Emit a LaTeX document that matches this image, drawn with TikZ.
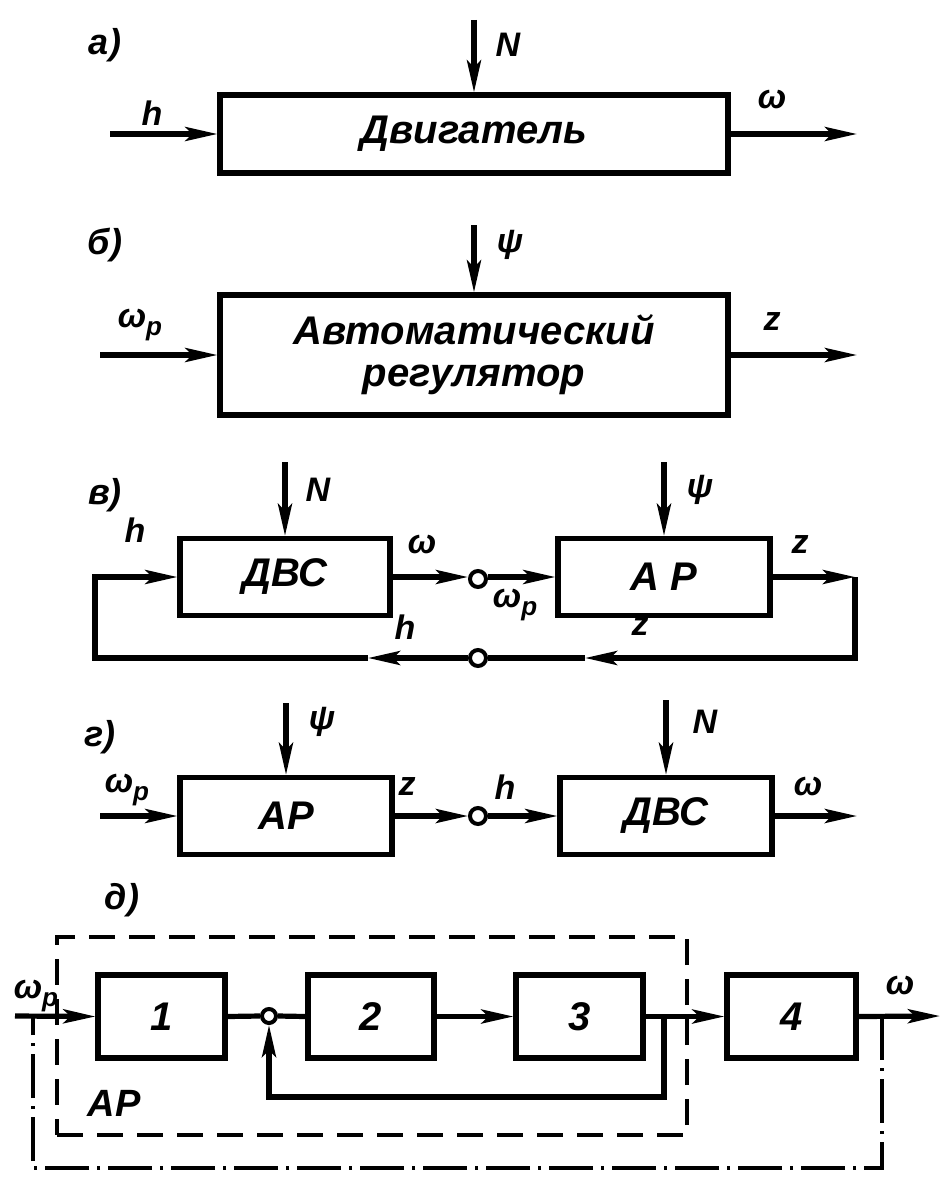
\documentclass[tikz,border=0pt]{standalone}
\usepackage{fontspec}
\setmainfont{Liberation Sans}
\usetikzlibrary{arrows.meta}
\newcommand{\omp}{ω\raisebox{-0.45ex}{\fontsize{13}{13}\selectfont p}}
\begin{document}
\begin{tikzpicture}[x=0.5pt,y=-0.5pt,
  every node/.style={font=\bfseries\itshape},
  blk/.style={draw,line width=2.6pt,inner sep=0pt,font=\bfseries\itshape\fontsize{20}{23}\selectfont},
  lnk/.style={line width=2.6pt},
  arr/.style={lnk,-{Stealth[length=16pt,width=7pt,inset=3.5pt]}},
  sumc/.style={draw,circle,line width=2pt,fill=white,minimum size=8pt,inner sep=0pt},
  lbl/.style={font=\bfseries\itshape\fontsize{17}{19}\selectfont,inner sep=0pt},
  ptag/.style={font=\bfseries\itshape\fontsize{18}{20}\selectfont,inner sep=0pt}]
\path[use as bounding box] (0,0) rectangle (942,1177);
% ---------- a)
\node[ptag] (ta) at (105,45) {а)};
\node[blk,minimum width=254pt,minimum height=39pt] (A) at (474,134) {Двигатель};
\coordinate (aN) at (474,20);
\coordinate (ah) at (110,134);
\coordinate (aw) at (857,134);
\draw[arr] (aN) -- (A.north);
\draw[arr] (ah) -- (A.west);
\draw[arr] (A.east) -- (aw);
\node[lbl] (laN) at (508,45) {N};
\node[lbl] (lah) at (152,113) {h};
\node[lbl] (law) at (772,100) {ω};
% ---------- b)
\node[ptag] (tb) at (105,245) {б)};
\node[blk,minimum width=254pt,minimum height=60pt,align=center] (B) at (474,355) {Автоматический\\[-2pt]регулятор};
\coordinate (bP) at (474,225);
\coordinate (bw) at (100,355);
\coordinate (bz) at (857,355);
\draw[arr] (bP) -- (B.north);
\draw[arr] (bw) -- (B.west);
\draw[arr] (B.east) -- (bz);
\node[lbl] (lbP) at (510,245) {ψ};
\node[lbl] (lbw) at (140,325) {\omp};
\node[lbl] (lbz) at (772,322) {z};
% ---------- v)
\node[ptag] (tc) at (105,495) {в)};
\node[blk,minimum width=105pt,minimum height=38.5pt] (C1) at (285,577) {ДВС};
\node[blk,minimum width=106pt,minimum height=38.5pt] (C2) at (664,577) {А Р};
\node[sumc] (c1) at (478,579) {};
\node[sumc] (c2) at (478,658) {};
\coordinate (cN) at (285,462);
\coordinate (cP) at (664,462);
\coordinate (cR) at (855,577);
\coordinate (cRb) at (855,658);
\coordinate (cz) at (585,658);
\coordinate (chm) at (368,658);
\coordinate (cL) at (95,658);
\draw[arr] (cN) -- (C1.north);
\draw[arr] (cP) -- (C2.north);
\draw[arr] (C1.east) -- (c1.west |- C1.east);
\draw[arr] (c1.east |- C2.west) -- (C2.west);
\draw[arr] (C2.east) -- (cR);
\draw[arr] (cR) -- (cRb) -- (cz);
\draw[lnk] (cz) -- (c2.east);
\draw[arr] (c2.west) -- (chm);
\draw[arr] (chm) -- (cL) |- (C1.west);
\node[lbl] (lcN) at (318,490) {N};
\node[lbl] (lcP) at (700,490) {ψ};
\node[lbl] (lch) at (135,530) {h};
\node[lbl] (lcw) at (422,545) {ω};
\node[lbl] (lcwp) at (515,605) {\omp};
\node[lbl] (lcz) at (800,545) {z};
\node[lbl] (lcz2) at (640,627) {z};
\node[lbl] (lch2) at (405,627) {h};
% ---------- g)
\node[ptag] (td) at (100,737) {г)};
\node[blk,minimum width=106pt,minimum height=38.5pt] (D1) at (286,816) {АР};
\node[blk,minimum width=106pt,minimum height=38.5pt] (D2) at (666,816) {ДВС};
\node[sumc] (d1) at (478,816) {};
\coordinate (dP) at (286,703);
\coordinate (dN) at (666,700);
\coordinate (dwp) at (100,816);
\coordinate (dw) at (857,816);
\draw[arr] (dP) -- (D1.north);
\draw[arr] (dN) -- (D2.north);
\draw[arr] (dwp) -- (D1.west);
\draw[arr] (D1.east) -- (d1.west);
\draw[arr] (d1.east) -- (D2.west);
\draw[arr] (D2.east) -- (dw);
\node[lbl] (ldP) at (322,722) {ψ};
\node[lbl] (ldN) at (705,722) {N};
\node[lbl] (ldwp) at (127,790) {\omp};
\node[lbl] (ldz) at (407,787) {z};
\node[lbl] (ldh) at (505,787) {h};
\node[lbl] (ldw) at (808,787) {ω};
% ---------- d)
\node[ptag] (te) at (122,900) {д)};
\node[blk,minimum width=63.5pt,minimum height=41.5pt] (E1) at (161.5,1016.5) {1};
\node[blk,minimum width=63pt,minimum height=41.5pt] (E2) at (371,1016.5) {2};
\node[blk,minimum width=63.5pt,minimum height=41.5pt] (E3) at (579.5,1016.5) {3};
\node[blk,minimum width=64.5pt,minimum height=41.5pt] (E4) at (791.5,1016.5) {4};
\node[sumc,minimum size=7pt] (e1) at (269,1016) {};
\coordinate (ein) at (15,1016);
\coordinate (eout) at (940,1016);
\coordinate (efb1) at (664,1016);
\coordinate (efb2) at (664,1097);
\coordinate (edd1) at (882,1016);
\coordinate (edd2) at (882,1168);
\coordinate (edd3) at (33,1168);
\coordinate (edd4) at (33,1016);
\draw[arr] (ein) -- (E1.west);
\draw[lnk] (E1.east) -- (e1.west);
\draw[lnk] (e1.east) -- (E2.west);
\draw[arr] (E2.east) -- (E3.west);
\draw[arr] (E3.east) -- (E4.west);
\draw[arr] (E4.east) -- (eout);
\draw[arr] (efb1) -- (efb2) -| (e1.south);
\draw[line width=2pt,dash pattern=on 22pt off 4pt on 1.5pt off 4pt] (edd1) -- (edd2) -- (edd3) -- (edd4);
\node[draw,line width=2pt,dash pattern=on 13pt off 7pt,minimum width=315pt,minimum height=99pt,inner sep=0pt] (AR) at (372,1036) {};
\node[lbl,font=\bfseries\itshape\fontsize{19}{21}\selectfont] (lAR) at (114,1103) {АР};
\node[lbl] (lewp) at (36,996) {\omp};
\node[lbl] (lew) at (900,985) {ω};
\end{tikzpicture}
\end{document}
